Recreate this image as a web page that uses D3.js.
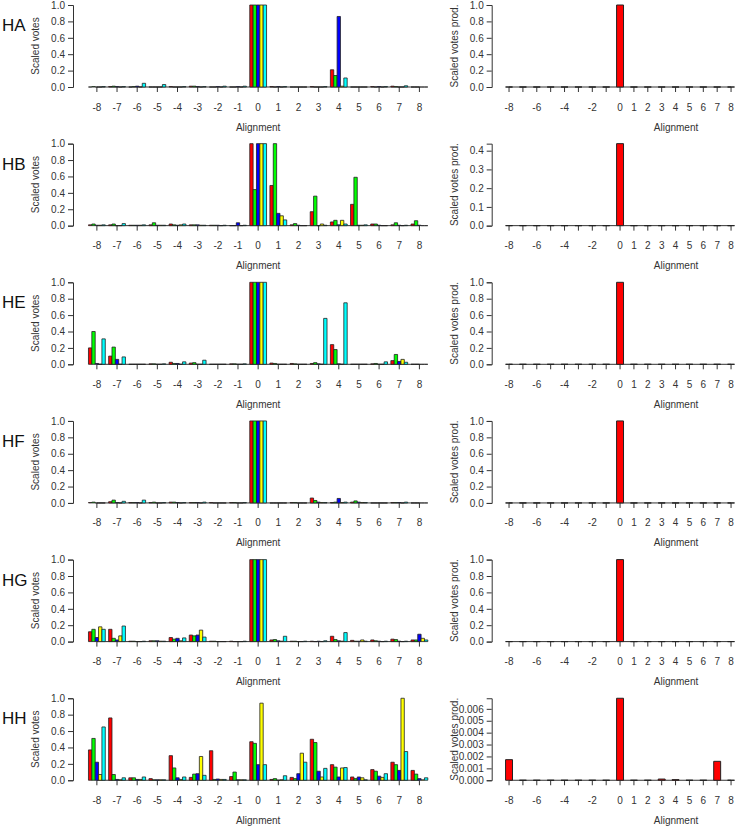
<!DOCTYPE html>
<html>
<head>
<meta charset="utf-8">
<script src="https://cdn.jsdelivr.net/npm/d3@7"></script>
<style>
  body { margin: 0; background: #fff; }
  text { font-family: "Liberation Sans", Arial, sans-serif; }
</style>
</head>
<body>
<div id="chart"></div>
<script>
// Data
var alignments   = [-8, -7, -6, -5, -4, -3, -2, -1, 0, 1, 2, 3, 4, 5, 6, 7, 8];
var prodLabels   = [-8, -6, -4, -2, 0, 1, 2, 3, 4, 5, 6, 7, 8];
var rowNames     = ['HA', 'HB', 'HE', 'HF', 'HG', 'HH'];

// one array per series: red, green, blue, yellow, cyan
var votesHA = [
    [0, 0.005, 0, 0, 0.005, 0.01, 0, 0, 1, 0.005, 0, 0.005, 0.21, 0, 0.005, 0.01, 0],
    [0.005, 0.01, 0.005, 0, 0, 0.01, 0, 0, 1, 0, 0, 0, 0.14, 0, 0, 0.005, 0],
    [0, 0.005, 0.01, 0, 0, 0.005, 0.005, 0.005, 1, 0.005, 0, 0, 0.86, 0, 0.005, 0, 0],
    [0, 0, 0, 0, 0, 0, 0, 0, 1, 0, 0, 0, 0.01, 0, 0, 0, 0],
    [0.005, 0.005, 0.045, 0.03, 0.005, 0.005, 0.01, 0.01, 1, 0.005, 0, 0.005, 0.11, 0, 0.005, 0.015, 0]
];
var votesHB = [
    [0.01, 0.01, 0.005, 0.01, 0.02, 0.01, 0.005, 0, 1, 0.49, 0.01, 0.17, 0.045, 0.26, 0.02, 0.01, 0.02],
    [0.02, 0.02, 0.005, 0.035, 0.01, 0.01, 0.005, 0, 0.44, 1, 0.025, 0.36, 0.065, 0.59, 0.02, 0.035, 0.06],
    [0.005, 0, 0.005, 0.005, 0.005, 0.01, 0.005, 0.035, 1, 0.15, 0.005, 0, 0.01, 0.005, 0.005, 0.005, 0.005],
    [0.005, 0, 0.005, 0.005, 0.01, 0.005, 0, 0, 1, 0.12, 0, 0.02, 0.065, 0.005, 0, 0, 0],
    [0.01, 0.025, 0.01, 0.005, 0.02, 0.005, 0.005, 0.005, 1, 0.07, 0, 0.005, 0.02, 0.01, 0, 0.005, 0]
];
var votesHE = [
    [0.2, 0.1, 0, 0.005, 0.025, 0.015, 0, 0.005, 1, 0.015, 0.01, 0.01, 0.24, 0, 0.005, 0.045, 0],
    [0.4, 0.21, 0, 0.005, 0.01, 0.02, 0, 0.005, 1, 0.01, 0.005, 0.02, 0.18, 0, 0.01, 0.12, 0],
    [0.01, 0.06, 0, 0, 0.01, 0, 0, 0, 1, 0, 0, 0.005, 0.005, 0, 0, 0.035, 0],
    [0, 0, 0, 0, 0, 0, 0, 0, 1, 0, 0, 0, 0, 0, 0, 0.06, 0],
    [0.31, 0.09, 0, 0.005, 0.03, 0.05, 0, 0.005, 1, 0, 0, 0.56, 0.75, 0, 0.03, 0.025, 0]
];
var votesHF = [
    [0.005, 0.015, 0.005, 0.005, 0.01, 0.005, 0.005, 0.005, 1, 0, 0.005, 0.06, 0.005, 0.01, 0, 0.005, 0],
    [0.01, 0.035, 0.005, 0.01, 0.01, 0.005, 0, 0.005, 1, 0, 0.005, 0.03, 0.01, 0.025, 0, 0.005, 0],
    [0, 0.005, 0.005, 0, 0.005, 0.005, 0, 0, 1, 0, 0, 0.01, 0.055, 0.01, 0, 0.005, 0],
    [0, 0, 0, 0, 0, 0, 0, 0, 1, 0, 0, 0.005, 0.005, 0.005, 0, 0, 0],
    [0, 0.02, 0.035, 0.005, 0.005, 0.01, 0, 0.005, 1, 0, 0, 0.005, 0.01, 0.005, 0, 0.01, 0]
];
var votesHG = [
    [0.12, 0.15, 0.005, 0.01, 0.05, 0.08, 0.005, 0.005, 1, 0.02, 0.005, 0.005, 0.065, 0.015, 0.02, 0.03, 0.02],
    [0.15, 0.04, 0.005, 0.01, 0.03, 0.07, 0.005, 0, 1, 0.025, 0.005, 0, 0.025, 0.005, 0.01, 0.025, 0.02],
    [0.05, 0.02, 0, 0.01, 0.04, 0.08, 0, 0, 1, 0.01, 0, 0.005, 0.01, 0.005, 0.005, 0.005, 0.09],
    [0.18, 0.07, 0, 0.005, 0.01, 0.14, 0, 0, 1, 0.005, 0, 0, 0.005, 0.02, 0, 0, 0.04],
    [0.15, 0.19, 0.005, 0.005, 0.045, 0.055, 0, 0.005, 1, 0.065, 0.005, 0.01, 0.11, 0.005, 0.005, 0.005, 0.02]
];
var votesHH = [
    [0.37, 0.76, 0.03, 0.02, 0.30, 0.035, 0.36, 0.045, 0.47, 0.01, 0.035, 0.50, 0.19, 0.04, 0.13, 0.22, 0.12],
    [0.51, 0.07, 0.03, 0.005, 0.15, 0.075, 0.01, 0.10, 0.45, 0.02, 0.02, 0.46, 0.16, 0.02, 0.11, 0.19, 0.075],
    [0.22, 0.01, 0.01, 0.005, 0.03, 0.08, 0.015, 0.005, 0.19, 0, 0.08, 0.11, 0.04, 0.04, 0.05, 0.12, 0.02],
    [0.07, 0.005, 0.01, 0.005, 0.01, 0.29, 0.01, 0.005, 0.94, 0.005, 0.33, 0.04, 0.15, 0.03, 0.035, 1, 0.005],
    [0.65, 0.03, 0.04, 0.005, 0.04, 0.06, 0.01, 0.005, 0.19, 0.055, 0.22, 0.145, 0.155, 0.005, 0.08, 0.35, 0.03]
];

var prodHA = [0, 0, 0, 0, 0, 0, 0, 0, 1, 0, 0, 0, 0, 0, 0, 0, 0];
var prodHB = [0, 0, 0, 0, 0, 0, 0, 0, 0.4375, 0, 0, 0, 0, 0, 0, 0, 0];
var prodHE = [0, 0, 0, 0, 0, 0, 0, 0, 1, 0, 0, 0, 0, 0, 0, 0, 0];
var prodHF = [0, 0, 0, 0, 0, 0, 0, 0, 1, 0, 0, 0, 0, 0, 0, 0, 0];
var prodHG = [0, 0, 0, 0, 0, 0, 0, 0, 1, 0, 0, 0, 0, 0, 0, 0, 0];
var prodHH = [0.00173, 0, 0, 0, 0, 0, 0, 0, 0.00689, 0, 0, 0.0001, 0.00005, 0, 0, 0.00159, 0];

var votesRows = [votesHA, votesHB, votesHE, votesHF, votesHG, votesHH];
var prodRows  = [prodHA, prodHB, prodHE, prodHF, prodHG, prodHH];

var seriesColors = ['#ff0000', '#00ff00', '#0000ff', '#ffff00', '#00ffff'];

// Layout
var chart_width  = 738;
var chart_height = 827;
var row_top      = 5;
var row_step     = 138.65;
var plot_height  = 82;

var svg = d3.select('#chart')
    .append('svg')
    .attr('width', chart_width)
    .attr('height', chart_height);

// group scale for the left panels, inner scale for the five series
var x_left = d3.scaleBand()
    .domain(alignments)
    .range([86.8, 429.5])
    .paddingInner(1 / 6)
    .paddingOuter(1 / 12);
var x_series = d3.scaleBand()
    .domain(d3.range(seriesColors.length))
    .range([0, x_left.bandwidth()]);

// single-bar scale for the right panels
var x_right = d3.scaleBand()
    .domain(alignments)
    .range([502.1, 738])
    .paddingInner(0.5)
    .paddingOuter(0.25);

// bar as a closed path so zero-height bars still show their outline
function barPath(x, w, y0, y1) {
    return 'M' + x + ',' + y0 + 'V' + y1 + 'H' + (x + w) + 'V' + y0 + 'Z';
}

function tickFormat(scale) {
    var ticks = scale.ticks(5);
    var step = ticks.length > 1 ? ticks[1] - ticks[0] : 1;
    return d3.format('.' + d3.precisionFixed(step) + 'f');
}

function drawYAxis(parent, y_scale, axis_x, title, title_x) {
    var g = parent.append('g');
    var fmt = tickFormat(y_scale);
    var ax = g.append('g')
        .attr('transform', 'translate(' + axis_x + ',0)')
        .call(d3.axisLeft(y_scale).ticks(5).tickFormat(fmt).tickSize(5).tickPadding(3));
    ax.attr('font-family', null);
    ax.select('.domain').attr('stroke', '#333');
    ax.selectAll('.tick line').attr('stroke', '#333');
    ax.selectAll('.tick text').attr('fill', '#333').attr('font-size', 10);

    var mid = (y_scale.range()[0] + y_scale.range()[1]) / 2;
    g.append('text')
        .text(title)
        .attr('transform', 'translate(' + title_x + ',' + mid + ') rotate(-90)')
        .attr('text-anchor', 'middle')
        .attr('font-size', 10)
        .attr('fill', '#333');
}

function drawXAxis(parent, centers, labels, base, title_x) {
    var g = parent.append('g');
    // axis line between first and last tick
    g.append('line')
        .attr('x1', centers[0]).attr('x2', centers[centers.length - 1])
        .attr('y1', base).attr('y2', base)
        .attr('stroke', '#333');
    g.selectAll('line.xtick')
        .data(centers)
        .enter()
        .append('line')
        .attr('class', 'xtick')
        .attr('x1', function(d) { return d; })
        .attr('x2', function(d) { return d; })
        .attr('y1', base)
        .attr('y2', base + 5)
        .attr('stroke', '#333');
    g.selectAll('text.xlab')
        .data(labels)
        .enter()
        .append('text')
        .attr('class', 'xlab')
        .text(function(d) { return d.label; })
        .attr('x', function(d) { return d.x; })
        .attr('y', base + 23.5)
        .attr('text-anchor', 'middle')
        .attr('font-size', 10)
        .attr('fill', '#333');
    g.append('text')
        .text('Alignment')
        .attr('x', title_x)
        .attr('y', base + 43.5)
        .attr('text-anchor', 'middle')
        .attr('font-size', 10)
        .attr('fill', '#333');
}

rowNames.forEach(function(name, r) {
    var top  = row_top + r * row_step;
    var base = top + plot_height;
    var votes = votesRows[r];
    var prod  = prodRows[r];
    var g = svg.append('g');

    // row name
    g.append('text')
        .text(name)
        .attr('x', 2)
        .attr('y', top + 26)
        .attr('font-size', 17)
        .attr('fill', '#111');

    // ---- left panel: grouped votes
    var y_left = d3.scaleLinear()
        .domain([0, d3.max(votes, function(s) { return d3.max(s); })])
        .range([base, top]);

    var bars = [];
    votes.forEach(function(series, s) {
        series.forEach(function(v, i) {
            bars.push({ a: alignments[i], s: s, v: v });
        });
    });

    drawXAxis(g, alignments.map(function(a) { return x_left(a) + x_left.bandwidth() / 2; }),
        alignments.map(function(a) { return { label: a, x: x_left(a) + x_left.bandwidth() / 2 }; }),
        base, (x_left.range()[0] + x_left.range()[1]) / 2);

    g.append('g').selectAll('path')
        .data(bars)
        .enter()
        .append('path')
        .attr('d', function(d) {
            return barPath(x_left(d.a) + x_series(d.s), x_series.bandwidth(), base, y_left(d.v));
        })
        .attr('fill', function(d) { return seriesColors[d.s]; })
        .attr('stroke', '#222')
        .attr('stroke-width', 0.8);

    drawYAxis(g, y_left, 73, 'Scaled votes', 38.5);

    // ---- right panel: product of votes
    var y_right = d3.scaleLinear()
        .domain([0, d3.max(prod)])
        .range([base, top]);

    drawXAxis(g, alignments.map(function(a) { return x_right(a) + x_right.bandwidth() / 2; }),
        prodLabels.map(function(a) { return { label: a, x: x_right(a) + x_right.bandwidth() / 2 }; }),
        base, 676);

    g.append('g').selectAll('path')
        .data(prod)
        .enter()
        .append('path')
        .attr('d', function(d, i) {
            return barPath(x_right(alignments[i]), x_right.bandwidth(), base, y_right(d));
        })
        .attr('fill', '#ff0000')
        .attr('stroke', '#222')
        .attr('stroke-width', 1);

    drawYAxis(g, y_right, 491.7, 'Scaled votes prod.', 457.5);
});
</script>
</body>
</html>
